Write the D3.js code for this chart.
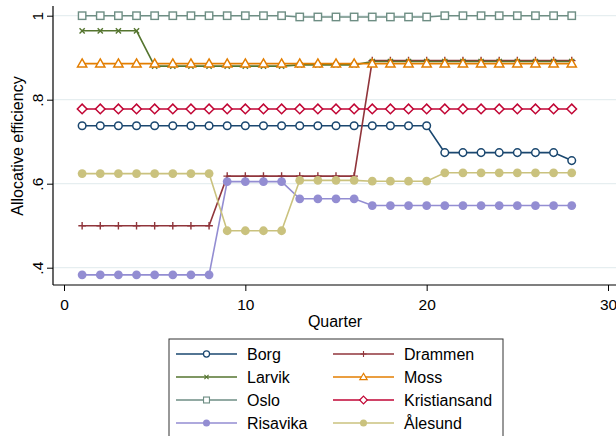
<!DOCTYPE html>
<html><head><meta charset="utf-8">
<script src="https://cdn.jsdelivr.net/npm/d3@7"></script>
<style>
html,body{margin:0;padding:0;background:#fff;}
svg{display:block;font-family:"Liberation Sans",Arial,Helvetica,sans-serif;}
</style></head>
<body>
<script>
// ---- data ----
const quarters = [1,2,3,4,5,6,7,8,9,10,11,12,13,14,15,16,17,18,19,20,21,22,23,24,25,26,27,28];
const borg = [0.738,0.738,0.738,0.738,0.738,0.738,0.738,0.738,0.738,0.738,0.738,0.738,0.738,0.738,0.738,0.738,0.738,0.738,0.738,0.738,0.674,0.674,0.674,0.674,0.674,0.674,0.674,0.655];
const drammen = [0.500,0.500,0.500,0.500,0.500,0.500,0.500,0.500,0.618,0.618,0.618,0.618,0.618,0.618,0.618,0.618,0.893,0.893,0.893,0.893,0.893,0.893,0.893,0.893,0.893,0.893,0.893,0.893];
const larvik = [0.964,0.964,0.964,0.964,0.880,0.880,0.880,0.880,0.880,0.880,0.880,0.880,0.883,0.883,0.883,0.883,0.891,0.891,0.891,0.891,0.891,0.891,0.891,0.891,0.891,0.891,0.891,0.891];
const moss = [0.886,0.886,0.886,0.886,0.886,0.886,0.886,0.886,0.886,0.886,0.886,0.886,0.886,0.886,0.886,0.886,0.886,0.886,0.886,0.886,0.886,0.886,0.886,0.886,0.886,0.886,0.886,0.886];
const oslo = [1.000,1.000,1.000,1.000,1.000,1.000,1.000,1.000,1.000,1.000,1.000,1.000,0.997,0.997,0.997,0.997,0.997,0.997,0.997,0.997,1.000,1.000,1.000,1.000,1.000,1.000,1.000,1.000];
const kristiansand = [0.778,0.778,0.778,0.778,0.778,0.778,0.778,0.778,0.778,0.778,0.778,0.778,0.778,0.778,0.778,0.778,0.778,0.778,0.778,0.778,0.778,0.778,0.778,0.778,0.778,0.778,0.778,0.778];
const risavika = [0.383,0.383,0.383,0.383,0.383,0.383,0.383,0.383,0.605,0.605,0.605,0.605,0.564,0.564,0.564,0.564,0.548,0.548,0.548,0.548,0.548,0.548,0.548,0.548,0.548,0.548,0.548,0.548];
const alesund = [0.624,0.624,0.624,0.624,0.624,0.624,0.624,0.624,0.488,0.488,0.488,0.488,0.608,0.608,0.608,0.608,0.606,0.606,0.606,0.606,0.626,0.626,0.626,0.626,0.626,0.626,0.626,0.626];

const seriesNames = ["Borg","Drammen","Larvik","Moss","Oslo","Kristiansand","Risavika","Ålesund"];
const seriesValues = [borg,drammen,larvik,moss,oslo,kristiansand,risavika,alesund];
const seriesColors = ["#1a476f","#90353b","#55752f","#e37e00","#6e8e84","#c10534","#938dd2","#cac27e"];
const seriesSymbols = ["circleHollow","plus","x","triangle","square","diamond","circleSolid","circleSolid"];

const xTicks = [0,10,20,30];
const xTickLabels = ["0","10","20","30"];
const yTicks = [0.4,0.6,0.8,1];
const yTickLabels = [".4",".6",".8","1"];
const xTitle = "Quarter";
const yTitle = "Allocative efficiency";

// ---- layout ----
const W = 616, H = 436;
const frame = {left:53, top:6, right:616, bottom:285};
const x = d3.scaleLinear().domain([0,30]).range([64,608]);
const y = d3.scaleLinear().domain([0.4,1]).range([267.7,15.7]);
const FS = 15.5;

const svg = d3.select("body").append("svg").attr("width",W).attr("height",H);
svg.append("rect").attr("width",W).attr("height",H).attr("fill","#fff");

// gridlines
svg.append("g").selectAll("line").data(yTicks).join("line")
  .attr("x1",frame.left).attr("x2",frame.right)
  .attr("y1",d=>y(d)).attr("y2",d=>y(d))
  .attr("stroke","#e6eef0").attr("stroke-width",1.2);

// y axis
const yAxis = d3.axisLeft(y).tickValues(yTicks).tickSize(6)
  .tickFormat((d,i)=>yTickLabels[i]);
const gy = svg.append("g").attr("transform",`translate(${frame.left},0)`).call(yAxis);
gy.select(".domain").remove();
gy.selectAll(".tick line").attr("stroke","#000").attr("stroke-width",1);
gy.selectAll(".tick text")
  .attr("font-size",FS).attr("font-family","Liberation Sans, Arial, sans-serif").attr("fill","#000")
  .attr("text-anchor","middle").attr("x",null).attr("dy",null)
  .attr("transform","translate(-10.5,0) rotate(-90)");
svg.append("line").attr("x1",frame.left).attr("x2",frame.left)
  .attr("y1",frame.top).attr("y2",frame.bottom).attr("stroke","#000").attr("stroke-width",1.2);

// x axis
const xAxis = d3.axisBottom(x).tickValues(xTicks).tickSize(6)
  .tickFormat((d,i)=>xTickLabels[i]);
const gx = svg.append("g").attr("transform",`translate(0,${frame.bottom})`).call(xAxis);
gx.select(".domain").remove();
gx.selectAll(".tick line").attr("stroke","#000").attr("stroke-width",1);
gx.selectAll(".tick text")
  .attr("font-size",FS).attr("font-family","Liberation Sans, Arial, sans-serif").attr("fill","#000")
  .attr("y",25).attr("dy",null);
svg.append("line").attr("x1",frame.left).attr("x2",frame.right)
  .attr("y1",frame.bottom).attr("y2",frame.bottom).attr("stroke","#000").attr("stroke-width",1.2);

// titles
svg.append("text").attr("x",(x(0)+x(30))/2 - 1).attr("y",327).attr("text-anchor","middle")
  .attr("font-size",FS+0.5).text(xTitle);
svg.append("text").attr("transform",`translate(23,146) rotate(-90)`).attr("text-anchor","middle")
  .attr("font-size",FS+0.5).text(yTitle);

// marker drawing
function drawMarker(g, type, color){
  switch(type){
    case "circleHollow":
      g.append("circle").attr("r",3.8).attr("fill","#fff").attr("stroke",color).attr("stroke-width",1.5); break;
    case "circleSolid":
      g.append("circle").attr("r",4.4).attr("fill",color); break;
    case "square":
      g.append("rect").attr("x",-3.7).attr("y",-3.7).attr("width",7.4).attr("height",7.4)
        .attr("fill","#fff").attr("stroke",color).attr("stroke-width",1.4); break;
    case "triangle":
      g.append("path").attr("d","M0,-4.6L4.6,3.3L-4.6,3.3Z").attr("fill","#fff")
        .attr("stroke",color).attr("stroke-width",1.5); break;
    case "diamond":
      g.append("path").attr("d","M0,-4.8L4.8,0L0,4.8L-4.8,0Z").attr("fill","#fff")
        .attr("stroke",color).attr("stroke-width",1.5); break;
    case "plus":
      g.append("path").attr("d","M0,-3.8V3.8M-3.8,0H3.8").attr("stroke",color).attr("stroke-width",1.4); break;
    case "x":
      g.append("path").attr("d","M-2.6,-2.6L2.6,2.6M-2.6,2.6L2.6,-2.6").attr("stroke",color).attr("stroke-width",1.4); break;
  }
}

const line = d3.line().x((d,i)=>x(quarters[i])).y(d=>y(d));
const plot = svg.append("g");
seriesValues.forEach((vals,si)=>{
  const g = plot.append("g");
  g.append("path").attr("d",line(vals)).attr("fill","none")
    .attr("stroke",seriesColors[si]).attr("stroke-width",1.6);
  vals.forEach((v,i)=>{
    const m = g.append("g").attr("transform",`translate(${x(quarters[i])},${y(v)})`);
    drawMarker(m, seriesSymbols[si], seriesColors[si]);
  });
});

// legend
const leg = svg.append("g");
leg.append("rect").attr("x",169).attr("y",339).attr("width",334).attr("height",110)
  .attr("fill","#fff").attr("stroke","#333").attr("stroke-width",1);
const colX = [176,333];
const rowY = [354,377,400,423];
seriesNames.forEach((name,i)=>{
  const col = i%2, row = Math.floor(i/2);
  const lx = colX[col], ly = rowY[row];
  const g = leg.append("g");
  g.append("line").attr("x1",lx).attr("x2",lx+61).attr("y1",ly).attr("y2",ly)
    .attr("stroke",seriesColors[i]).attr("stroke-width",1.4);
  const m = g.append("g").attr("transform",`translate(${lx+30.5},${ly}) scale(0.8)`);
  drawMarker(m, seriesSymbols[i], seriesColors[i]);
  g.append("text").attr("x",lx+71).attr("y",ly+5.5).attr("font-size",FS+0.5).text(name);
});
</script>
</body></html>
